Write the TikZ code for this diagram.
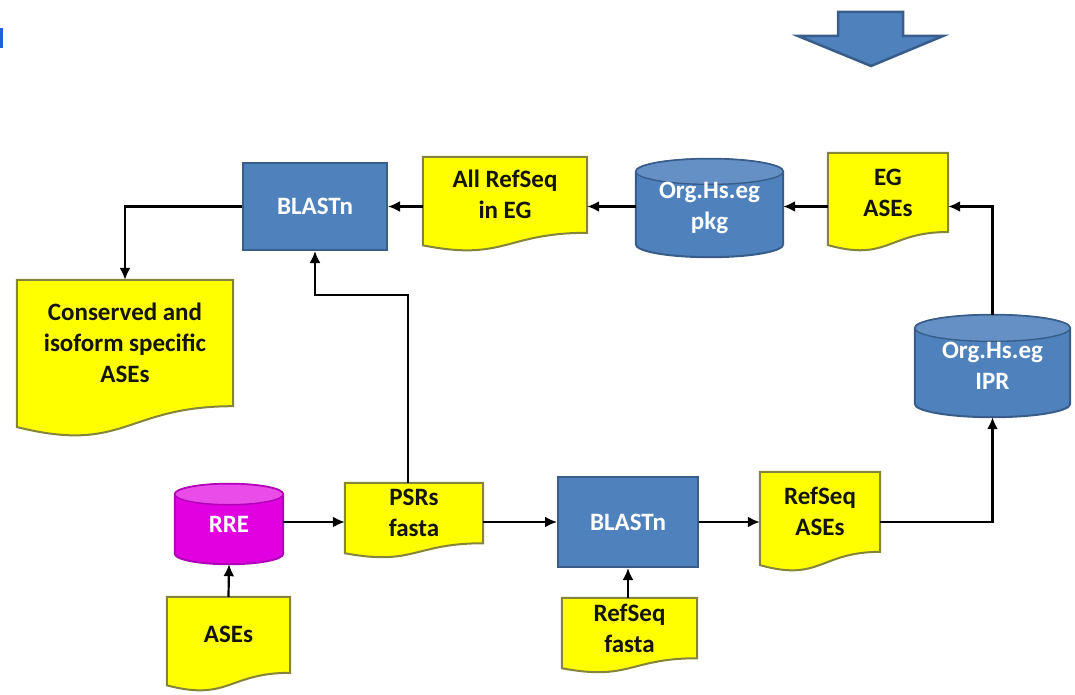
\documentclass[tikz,border=0pt]{standalone}
\usepackage{fontspec}
\setmainfont{Carlito}
\usetikzlibrary{arrows.meta,calc}
\pgfdeclarelayer{background}
\pgfsetlayers{background,main}

\definecolor{boxblue}{HTML}{4F81BD}
\definecolor{boxblueline}{HTML}{385D8A}
\definecolor{docyellow}{HTML}{FFFF00}
\definecolor{docline}{HTML}{85853A}
\definecolor{dbmagenta}{HTML}{E000E0}
\definecolor{dbmagentaline}{HTML}{B000B8}
\definecolor{markblue}{HTML}{1F5FE0}

\tikzset{
  lbl/.style={inner sep=0pt, align=center, font=\fontsize{25}{31}\selectfont\bfseries},
  procbox/.style={lbl, rectangle, draw=boxblueline, fill=boxblue, line width=2pt, text=white},
  docnode/.style={lbl, rectangle, text=black!85!docline},
  docshape/.style={draw=docline, fill=docyellow, line width=2pt},
  dbnode/.style={lbl, rectangle, text=white},
  dbblue/.style={draw=boxblueline, fill=boxblue, line width=2pt},
  dbmag/.style={draw=dbmagentaline, fill=dbmagenta, line width=2pt},
  dbtop/.style 2 args={draw=#1, fill=#2, line width=1.4pt},
  flow/.style={line width=2.2pt, black, -{Latex[length=12pt,width=11pt]}},
}

% Flow-chart "document": the node is the text area, the wavy foot hangs below it
\newcommand\docoutline[1]{%
  \begin{pgfonlayer}{background}
    \path[docshape] let \p1=(#1.north west), \p2=(#1.south east), \n1={\y1-\y2} in
      (\p1) -- (\x2,\y1) -- (\p2)
      .. controls ({(\x1+\x2)/2},\y2) and ({(\x1+\x2)/2},{\y2-0.380*\n1}) ..
      (\x1,{\y2-0.1646*\n1}) -- cycle;
  \end{pgfonlayer}}

% Database cylinder filling the whole node; #3 rim colour, #4 lid colour
\newcommand\cyloutline[4]{%
  \begin{pgfonlayer}{background}
    \path[#2] let \p1=(#1.north west), \p2=(#1.south east),
        \n1={(\x2-\x1)/2}, \n2={0.13*(\y1-\y2)} in
      (\x1,{\y1-\n2}) -- (\x1,{\y2+\n2})
      arc[start angle=180, end angle=360, x radius=\n1, y radius=\n2]
      -- (\x2,{\y1-\n2})
      arc[start angle=0, end angle=180, x radius=\n1, y radius=\n2] -- cycle;
    \path[dbtop={#3}{#4}] let \p1=(#1.north west), \p2=(#1.south east),
        \n1={(\x2-\x1)/2}, \n2={0.13*(\y1-\y2)} in
      ({\x1+\n1},{\y1-\n2}) ellipse[x radius=\n1, y radius=\n2];
  \end{pgfonlayer}}

\begin{document}
\begin{tikzpicture}[x=1pt, y=1pt]
  \useasboundingbox (0,0) rectangle (1075,-695);

  % corner mark
  \fill[markblue] (0,-28) rectangle (3,-48);

  % big down arrow
  \path[draw=boxblueline, fill=boxblue, line width=2.5pt, line join=miter]
    (838,-12) -- (903,-12) -- (903,-36) -- (943,-36) -- (871,-66)
    -- (798,-36) -- (838,-36) -- cycle;

  % upper row
  \node[procbox, minimum width=144, minimum height=87] (blastT) at (315,-206.5) {BLASTn};
  \node[docnode, minimum width=164, minimum height=75.6] (allref) at (505,-194.8) {All RefSeq\\in EG};
  \node[dbnode, minimum width=147, minimum height=98] (orgT) at (709.5,-208) {Org.Hs.eg\\pkg};
  \node[docnode, minimum width=120, minimum height=78.8] (egases) at (888,-192.4) {EG\\ASEs};

  % left output and right database
  \node[docnode, minimum width=216, minimum height=126] (conserved) at (125,-343) {Conserved and\\isoform specific\\ASEs};
  \node[dbnode, minimum width=155, minimum height=102] (orgB) at (992.5,-366) {Org.Hs.eg\\IPR};

  % lower row
  \node[dbnode, minimum width=108, minimum height=80] (rre) at (229,-524) {RRE};
  \node[docnode, minimum width=138, minimum height=60.1] (psrs) at (414,-513) {PSRs\\fasta};
  \node[procbox, minimum width=140, minimum height=90] (blastB) at (628,-522) {BLASTn};
  \node[docnode, minimum width=120, minimum height=79.7] (refases) at (820,-511.8) {RefSeq\\ASEs};

  % inputs
  \node[docnode, minimum width=123, minimum height=75.6] (ases) at (228.5,-634.8) {ASEs};
  \node[docnode, minimum width=135, minimum height=60.1] (reffasta) at (629.5,-628) {RefSeq\\fasta};

  % shape outlines
  \docoutline{allref}
  \docoutline{egases}
  \docoutline{conserved}
  \docoutline{psrs}
  \docoutline{refases}
  \docoutline{ases}
  \docoutline{reffasta}
  \cyloutline{orgT}{dbblue}{boxblueline}{boxblue!88!white}
  \cyloutline{orgB}{dbblue}{boxblueline}{boxblue!88!white}
  \cyloutline{rre}{dbmag}{dbmagentaline}{dbmagenta!70!white}

  % connectors
  \coordinate (psrsbend) at (315,-295);
  \draw[flow] (blastT.west) -| (conserved.north);
  \draw[flow] (allref.west |- blastT.east) -- (blastT.east);
  \draw[flow] (orgT.west |- blastT.east) -- (allref.east |- blastT.east);
  \draw[flow] (egases.west |- blastT.east) -- (orgT.east |- blastT.east);
  \draw[flow] (orgB.north) |- (egases.east |- blastT.east);
  \draw[flow] (408,-483) |- (psrsbend) -- (blastT.south);
  \draw[flow] (rre.east |- blastB.west) -- (psrs.west |- blastB.west);
  \draw[flow] (psrs.east |- blastB.west) -- (blastB.west);
  \draw[flow] (blastB.east) -- (refases.west |- blastB.east);
  \draw[flow] (refases.east |- blastB.east) -| (orgB.south);
  \draw[flow] (ases.north) -- (rre.south);
  \draw[flow] (blastB.south |- reffasta.north) -- (blastB.south);
\end{tikzpicture}
\end{document}
